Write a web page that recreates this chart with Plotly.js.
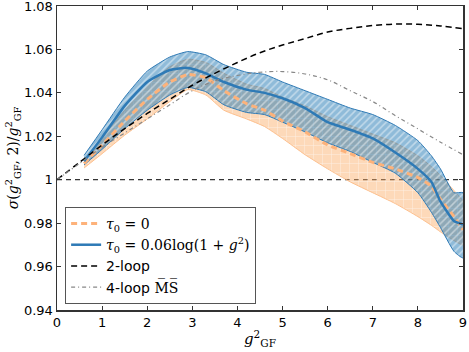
<!DOCTYPE html>
<html>
<head>
<meta charset="utf-8">
<script src="https://cdn.plot.ly/plotly-3.0.1.min.js"></script>
<style>
  html, body { margin: 0; padding: 0; background: #fff; }
  #chart { width: 469px; height: 352px; }
</style>
</head>
<body>
<div id="chart"></div>
<script>
// g^2 grid for the lattice bands
const gBand = [0.6, 1.0, 1.5, 2.0, 2.5, 2.9, 3.3, 3.7, 4.2, 4.6, 5.0, 5.5, 6.0, 6.5, 7.0, 7.5, 8.0, 8.3, 8.5, 8.8, 9.0];

// tau0 = 0.06 log(1+g^2)  (blue)
const blueMid = [1.0085, 1.0195, 1.034, 1.045, 1.0505, 1.0515, 1.049, 1.045, 1.0415, 1.040, 1.0375, 1.033, 1.0265, 1.023, 1.019, 1.0125, 1.005, 0.999, 0.990, 0.981, 0.9795];
const blueHi  = [1.0112, 1.023, 1.038, 1.050, 1.0565, 1.059, 1.0575, 1.053, 1.0495, 1.0485, 1.045, 1.041, 1.037, 1.033, 1.030, 1.025, 1.018, 1.011, 1.005, 0.994, 0.994];
const blueLo  = [1.0068, 1.014, 1.0235, 1.032, 1.039, 1.0425, 1.0405, 1.0345, 1.031, 1.030, 1.0265, 1.022, 1.017, 1.013, 1.008, 1.003, 0.994, 0.985, 0.978, 0.967, 0.964];

// tau0 = 0  (orange)
const orangeMid = [1.0075, 1.016, 1.027, 1.037, 1.045, 1.0484, 1.047, 1.041, 1.035, 1.032, 1.027, 1.022, 1.016, 1.012, 1.008, 1.005, 1.001, 0.997, 0.991, 0.983, 0.977];
const orangeHi  = [1.009, 1.019, 1.032, 1.043, 1.052, 1.0555, 1.054, 1.049, 1.044, 1.042, 1.038, 1.034, 1.029, 1.025, 1.021, 1.017, 1.011, 1.006, 1.002, 0.995, 0.990];
const orangeLo  = [1.0054, 1.012, 1.0205, 1.028, 1.036, 1.0415, 1.039, 1.032, 1.028, 1.0245, 1.019, 1.0115, 1.005, 0.999, 0.994, 0.989, 0.983, 0.979, 0.976, 0.972, 0.970];

// perturbative curves
const gPert = [0, 0.5, 1, 1.5, 2, 2.5, 3, 3.5, 4, 4.5, 5, 5.5, 6, 6.5, 7, 7.5, 8, 8.5, 9];
const twoLoop  = [1.0, 1.008, 1.016, 1.0235, 1.0305, 1.037, 1.0435, 1.049, 1.054, 1.0585, 1.062, 1.065, 1.068, 1.0697, 1.071, 1.0717, 1.0716, 1.0708, 1.0696];
const fourLoop = [1.0, 1.0075, 1.015, 1.0215, 1.028, 1.0345, 1.041, 1.0455, 1.048, 1.0495, 1.0498, 1.0487, 1.046, 1.041, 1.036, 1.0295, 1.0234, 1.0173, 1.0115];

const refX = [0, 9];
const refY = [1, 1];

const yTicks = [0.94, 0.96, 0.98, 1.0, 1.02, 1.04, 1.06, 1.08];
const yTickText = ['0.94', '0.96', '0.98', '1', '1.02', '1.04', '1.06', '1.08'];

function band(x, lo, hi) {
  return {
    x: x.concat(x.slice().reverse()),
    y: hi.concat(lo.slice().reverse())
  };
}

const ob = band(gBand, orangeLo, orangeHi);
const bb = band(gBand, blueLo, blueHi);

const serif = "font-family:'DejaVu Serif'";

const traces = [
  {
    x: refX, y: refY, mode: 'lines', showlegend: false, hoverinfo: 'skip',
    line: { color: '#000', width: 1, dash: '5px,4px' }
  },
  {
    x: ob.x, y: ob.y, mode: 'lines', fill: 'toself', showlegend: false,
    line: { color: '#fdc08e', width: 1, shape: 'spline', smoothing: 0.5 },
    fillcolor: 'rgba(252,170,100,0.45)',
    fillpattern: { shape: '+', bgcolor: 'rgba(252,170,100,0.45)', fgcolor: 'rgba(255,255,255,0.55)', size: 9, solidity: 0.12 }
  },
  {
    x: bb.x, y: bb.y, mode: 'lines', fill: 'toself', showlegend: false,
    line: { color: '#2f7ab5', width: 1, shape: 'spline', smoothing: 0.5 },
    fillcolor: 'rgba(31,119,180,0.5)',
    fillpattern: { shape: '/', bgcolor: 'rgba(31,119,180,0.5)', fgcolor: 'rgba(255,255,255,0.45)', size: 5, solidity: 0.3 }
  },
  {
    x: gBand, y: orangeMid, mode: 'lines', name: '<span style="' + serif + '"><i>τ</i><sub>0</sub> = 0</span>',
    legendgroup: 'a',
    line: { color: '#fdb27a', width: 3, dash: '6px,4px', shape: 'spline', smoothing: 0.5 }
  },
  {
    x: gBand, y: blueMid, mode: 'lines', name: '<span style="' + serif + '"><i>τ</i><sub>0</sub> = 0.06log(1 + <i>g</i><sup>2</sup>)</span>',
    legendgroup: 'b',
    line: { color: '#2e7ab6', width: 2.5, shape: 'spline', smoothing: 0.5 }
  },
  {
    x: gPert, y: twoLoop, mode: 'lines', name: '2-loop', legendgroup: 'c',
    line: { color: '#000', width: 1.5, dash: '6px,4px', shape: 'spline' }
  },
  {
    x: gPert, y: fourLoop, mode: 'lines', name: '4-loop <span style="' + serif + '">M̅S̅</span>', legendgroup: 'd',
    line: { color: '#888', width: 1.2, dash: '4px,3px,1px,3px', shape: 'spline' }
  }
];

const axisCommon = {
  showgrid: false, zeroline: false,
  showline: true, linecolor: '#333', linewidth: 1.5, mirror: 'ticks',
  ticks: 'inside', ticklen: 4, tickcolor: '#333', tickwidth: 1,
  ticklabeloverflow: 'allow',
  tickfont: { family: 'DejaVu Sans', size: 13, color: '#000' }
};

const layout = {
  width: 469, height: 352,
  margin: { l: 57, r: 6, t: 6, b: 42 },
  paper_bgcolor: '#fff', plot_bgcolor: '#fff',
  showlegend: true,
  legend: {
    x: 0.02, y: 0.02, xanchor: 'left', yanchor: 'bottom',
    bgcolor: '#fff', bordercolor: '#555', borderwidth: 1,
    font: { family: 'DejaVu Sans', size: 14, color: '#000' },
    tracegroupgap: 3, traceorder: 'normal'
  },
  xaxis: Object.assign({}, axisCommon, {
    range: [0, 9], dtick: 1, tick0: 0,
    title: { text: '<i>g</i><sup>2</sup><sub>GF</sub>', font: { family: 'DejaVu Serif', size: 15, color: '#000' }, standoff: 4 }
  }),
  yaxis: Object.assign({}, axisCommon, {
    range: [0.94, 1.08], tickvals: yTicks, ticktext: yTickText,
    title: { text: '<i>σ</i>(<i>g</i><sup>2</sup><sub>GF</sub>, 2)/<i>g</i><sup>2</sup><sub>GF</sub>', font: { family: 'DejaVu Serif', size: 14, color: '#000' }, standoff: 2 }
  })
};

Plotly.newPlot('chart', traces, layout, { displayModeBar: false, staticPlot: true });
</script>
</body>
</html>
